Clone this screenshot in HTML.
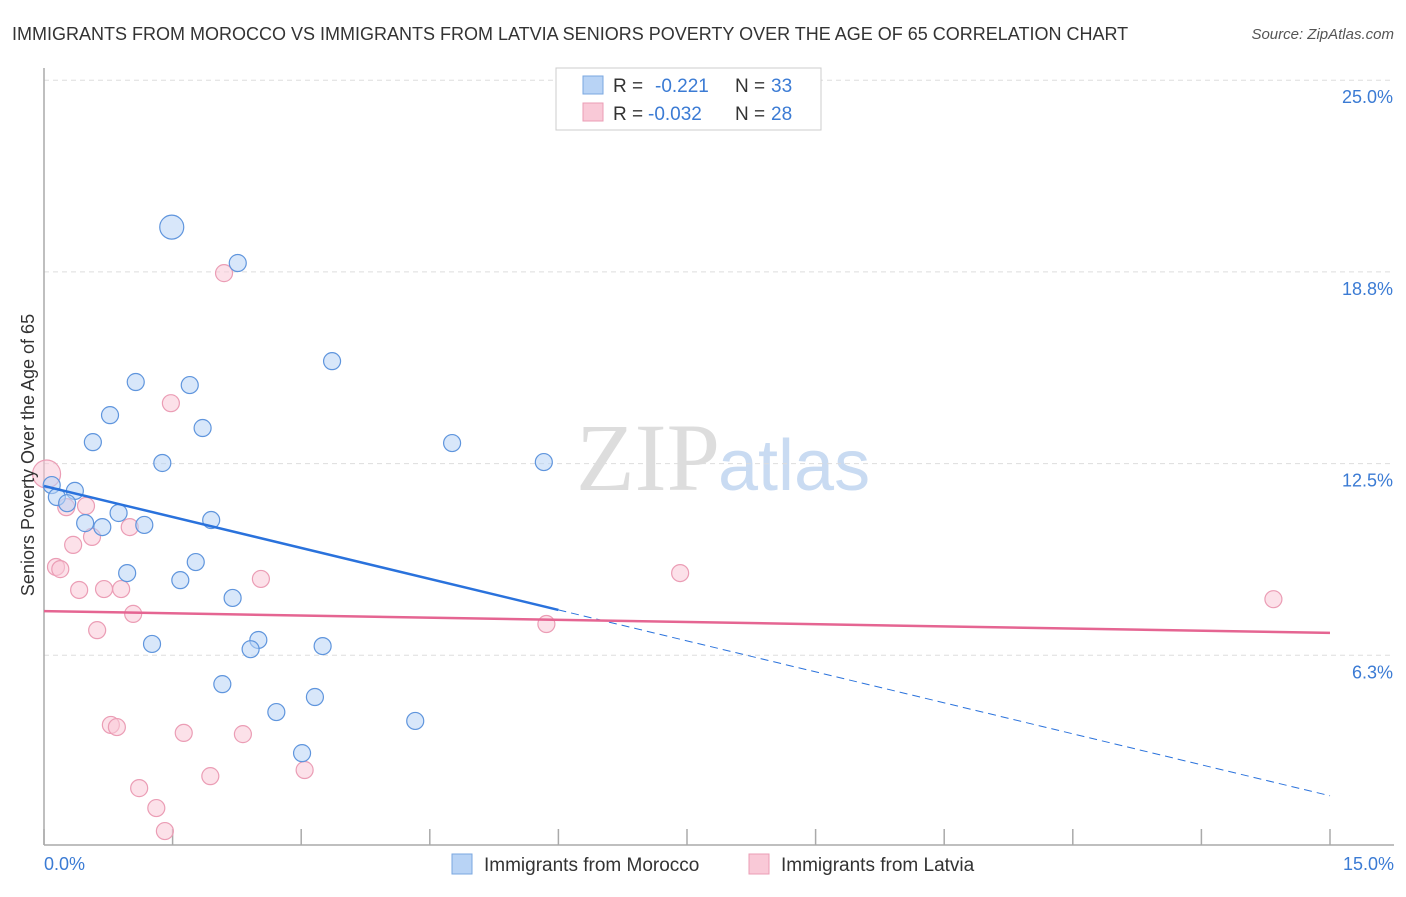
<!DOCTYPE html>
<html><head><meta charset="utf-8"><style>
body{margin:0;background:#fff;font-family:"Liberation Sans",sans-serif;}
</style></head><body>
<svg id="chart" width="1406" height="892" xmlns="http://www.w3.org/2000/svg">
<text x="12" y="40" font-size="18" fill="#333">IMMIGRANTS FROM MOROCCO VS IMMIGRANTS FROM LATVIA SENIORS POVERTY OVER THE AGE OF 65 CORRELATION CHART</text>
<text x="1394" y="39" font-size="15" fill="#555" font-style="italic" text-anchor="end">Source: ZipAtlas.com</text>
<text x="720" y="490" font-size="96" fill="#ddd" text-anchor="end" font-family="Liberation Serif, serif">ZIP</text>
<text x="718" y="490" font-size="72" fill="#c9dbf2">atlas</text>
<g id="grid"></g>
<g id="axes"></g>
<g id="marks"></g>
<text transform="translate(34,455) rotate(-90)" font-size="18" fill="#333" text-anchor="middle">Seniors Poverty Over the Age of 65</text>
<text x="44" y="870" font-size="18" fill="#3b7bd4">0.0%</text>
<text x="1394" y="870" font-size="18" fill="#3b7bd4" text-anchor="end">15.0%</text>
<g>
<rect x="556" y="68" width="265" height="62" fill="#fff" stroke="#ccc"/>
<rect x="583" y="76" width="20" height="18" fill="#b8d3f5" stroke="#7aa7e0"/>
<rect x="583" y="103" width="20" height="18" fill="#f9c9d7" stroke="#eb9db5"/>
<text x="613" y="92" font-size="19" fill="#333">R = </text><text x="655" y="92" font-size="19" fill="#3b7bd4">-0.221</text>
<text x="735" y="92" font-size="19" fill="#333">N = </text><text x="771" y="92" font-size="19" fill="#3b7bd4">33</text>
<text x="613" y="120" font-size="19" fill="#333">R = </text><text x="648" y="120" font-size="19" fill="#3b7bd4">-0.032</text>
<text x="735" y="120" font-size="19" fill="#333">N = </text><text x="771" y="120" font-size="19" fill="#3b7bd4">28</text>
</g>
<g><rect x="452" y="854" width="20" height="20" fill="#b8d3f5" stroke="#7aa7e0"/><text x="484" y="871" font-size="19" fill="#333">Immigrants from Morocco</text></g>
<g><rect x="749" y="854" width="20" height="20" fill="#f9c9d7" stroke="#eb9db5"/><text x="781" y="871" font-size="19" fill="#333">Immigrants from Latvia</text></g>
</svg>
<script>
const yTicks=[25,18.75,12.5,6.25];
const yTickLabels=["25.0%","18.8%","12.5%","6.3%"];
const xTicks=[0,1.5,3,4.5,6,7.5,9,10.5,12,13.5,15];
const moroccoX=[1.49,2.26,3.36,1.07,1.70,0.77,1.85,0.57,1.38,4.76,5.83,0.09,0.15,0.36,0.27,0.48,0.68,0.87,1.17,1.95,1.77,0.97,1.59,2.20,1.26,2.50,2.41,3.25,2.08,3.16,2.71,4.33,3.01];
const moroccoY=[20.21,19.04,15.84,15.16,15.06,14.08,13.66,13.20,12.52,13.17,12.55,11.80,11.41,11.61,11.21,10.56,10.43,10.89,10.50,10.66,9.29,8.93,8.70,8.12,6.62,6.75,6.45,6.55,5.31,4.89,4.40,4.11,3.06];
const latviaX=[0.03,0.26,0.49,0.34,0.56,1.00,0.14,0.19,0.41,0.70,0.90,2.53,1.04,0.62,2.10,1.48,7.42,5.86,14.34,0.78,0.85,1.63,2.32,1.94,3.04,1.11,1.31,1.41];
const latviaY=[12.16,11.08,11.12,9.85,10.11,10.43,9.13,9.06,8.38,8.41,8.41,8.74,7.60,7.07,18.71,14.47,8.93,7.27,8.08,3.98,3.91,3.72,3.68,2.31,2.51,1.92,1.27,0.52];
const moroccoTrend=[11.77,1.67];
const latviaTrend=[7.69,6.98];
const moroccoSolidEnd=6.0;
const NS="http://www.w3.org/2000/svg";
const sx=v=>44+v/15*1286;
const sy=v=>847-v/6.25*191.7;
function mk(t,a,p){const e=document.createElementNS(NS,t);for(const k in a)e.setAttribute(k,a[k]);p.appendChild(e);return e;}
const grid=document.getElementById('grid'),axes=document.getElementById('axes'),marks=document.getElementById('marks');
yTicks.forEach((v,i)=>{
 const l=mk('line',{x1:44,x2:1394,y1:sy(v),y2:sy(v),stroke:'#ddd','stroke-dasharray':'5,4'},grid);
 
 
 const t=mk('text',{x:1393,y:sy(v)+23,'font-size':18,fill:'#3b7bd4','text-anchor':'end'},grid);
 t.textContent=yTickLabels[i];
 
 
});
const ya=mk('line',{x1:44,x2:44,y1:68,y2:845,stroke:'#aaa','stroke-width':1.5},axes);


const xa=mk('line',{x1:44,x2:1394,y1:845,y2:845,stroke:'#aaa','stroke-width':1.5},axes);


xTicks.forEach(v=>{
 const l=mk('line',{x1:sx(v),x2:sx(v),y1:829,y2:845,stroke:'#aaa','stroke-width':1.5},axes);
 
 
});
function dots(X,Y,fill,stroke,name,bigR){
 X.forEach((x,i)=>{
  const r=i===0?bigR:8.5;
  const c=mk('circle',{cx:sx(x),cy:sy(Y[i]),r:r,fill:fill,'fill-opacity':0.55,stroke:stroke,'stroke-width':1.2},marks);
  
  
 });
}
dots(latviaX,latviaY,'#f9c9d7','#eb9db5','latvia-point',14);
dots(moroccoX,moroccoY,'#b8d3f5','#5f95dd','morocco-point',12);
const ms=(moroccoTrend[1]-moroccoTrend[0])/15;
const tb=mk('line',{x1:sx(0),y1:sy(moroccoTrend[0]),x2:sx(moroccoSolidEnd),y2:sy(moroccoTrend[0]+ms*moroccoSolidEnd),stroke:'#2a72dc','stroke-width':2.5},marks);


const td=mk('line',{x1:sx(moroccoSolidEnd),y1:sy(moroccoTrend[0]+ms*moroccoSolidEnd),x2:sx(15),y2:sy(moroccoTrend[1]),stroke:'#2a72dc','stroke-width':1,'stroke-dasharray':'8,5'},marks);


const tp=mk('line',{x1:sx(0),y1:sy(latviaTrend[0]),x2:sx(15),y2:sy(latviaTrend[1]),stroke:'#e56592','stroke-width':2.5},marks);


</script>
</body></html>
